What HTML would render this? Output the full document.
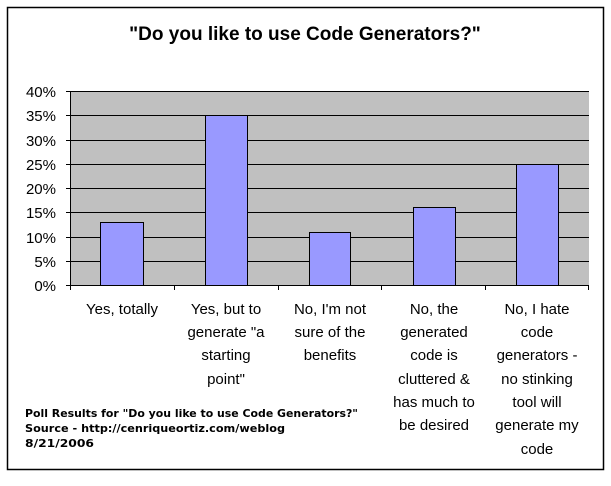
<!DOCTYPE html>
<html><head><meta charset="utf-8"><style>
body{margin:0;background:#fff;}
svg text{font-family:"Liberation Sans",Arial,sans-serif;}
svg text.fn{font-family:"DejaVu Sans",sans-serif;font-weight:bold;font-size:10.5px;}
</style></head><body>
<svg width="611" height="481" xmlns="http://www.w3.org/2000/svg">
<rect x="0" y="0" width="611" height="481" fill="#fff"/>
<rect x="7.5" y="7.5" width="596" height="462" fill="none" stroke="#000" stroke-width="1.5"/>
<text x="305" y="40" text-anchor="middle" font-size="19" font-weight="bold">"Do you like to use Code Generators?"</text>
<rect x="71" y="91" width="518" height="194" fill="#c0c0c0"/>
<g stroke="#000" stroke-width="1">
<line x1="71" y1="91.5" x2="589" y2="91.5"/>
<line x1="71" y1="115.5" x2="589" y2="115.5"/>
<line x1="71" y1="140.5" x2="589" y2="140.5"/>
<line x1="71" y1="164.5" x2="589" y2="164.5"/>
<line x1="71" y1="188.5" x2="589" y2="188.5"/>
<line x1="71" y1="212.5" x2="589" y2="212.5"/>
<line x1="71" y1="237.5" x2="589" y2="237.5"/>
<line x1="71" y1="261.5" x2="589" y2="261.5"/>
<line x1="71" y1="285.5" x2="589" y2="285.5"/>
<line x1="70.5" y1="91" x2="70.5" y2="290"/>
<line x1="66" y1="91.5" x2="71" y2="91.5"/><line x1="66" y1="115.5" x2="71" y2="115.5"/><line x1="66" y1="140.5" x2="71" y2="140.5"/><line x1="66" y1="164.5" x2="71" y2="164.5"/><line x1="66" y1="188.5" x2="71" y2="188.5"/><line x1="66" y1="212.5" x2="71" y2="212.5"/><line x1="66" y1="237.5" x2="71" y2="237.5"/><line x1="66" y1="261.5" x2="71" y2="261.5"/><line x1="66" y1="285.5" x2="71" y2="285.5"/>
<line x1="174.5" y1="285" x2="174.5" y2="290"/><line x1="278.5" y1="285" x2="278.5" y2="290"/><line x1="381.5" y1="285" x2="381.5" y2="290"/><line x1="485.5" y1="285" x2="485.5" y2="290"/><line x1="588.5" y1="285" x2="588.5" y2="290"/>
</g>
<g fill="#9999ff" stroke="#000" stroke-width="1">
<rect x="100.5" y="222.5" width="43" height="63"/>
<rect x="205.5" y="115.5" width="42" height="170"/>
<rect x="309.5" y="232.5" width="41" height="53"/>
<rect x="413.5" y="207.5" width="42" height="78"/>
<rect x="516.5" y="164.5" width="42" height="121"/>
</g>
<g font-size="15" text-anchor="end">
<text x="56" y="97">40%</text><text x="56" y="121">35%</text><text x="56" y="146">30%</text><text x="56" y="170">25%</text><text x="56" y="194">20%</text><text x="56" y="218">15%</text><text x="56" y="243">10%</text><text x="56" y="267">5%</text><text x="56" y="291">0%</text>
</g>
<g font-size="15" text-anchor="middle">
<text x="122" y="314">Yes, totally</text>
<text x="226" y="314">Yes, but to</text><text x="226" y="337">generate "a</text><text x="226" y="360">starting</text><text x="226" y="384">point"</text>
<text x="330" y="314">No, I'm not</text><text x="330" y="337">sure of the</text><text x="330" y="360">benefits</text>
<text x="434" y="314">No, the</text><text x="434" y="337">generated</text><text x="434" y="360">code is</text><text x="434" y="384">cluttered &amp;</text><text x="434" y="407">has much to</text><text x="434" y="430">be desired</text>
<text x="537" y="314">No, I hate</text><text x="537" y="337">code</text><text x="537" y="360">generators -</text><text x="537" y="384">no stinking</text><text x="537" y="407">tool will</text><text x="537" y="430">generate my</text><text x="537" y="454">code</text>
</g>
<text class="fn" x="25" y="417" textLength="333" lengthAdjust="spacingAndGlyphs">Poll Results for "Do you like to use Code Generators?"</text>
<text class="fn" x="25" y="432" textLength="260" lengthAdjust="spacingAndGlyphs">Source - http://cenriqueortiz.com/weblog</text>
<text class="fn" x="25" y="447" textLength="69" lengthAdjust="spacingAndGlyphs">8/21/2006</text>
</svg>
</body></html>
